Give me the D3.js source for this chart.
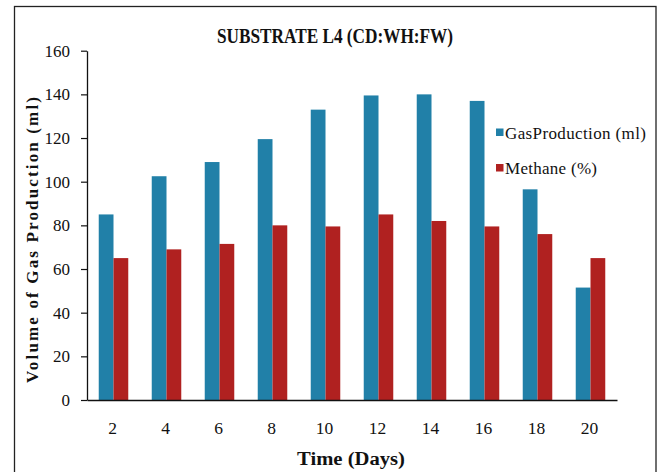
<!DOCTYPE html>
<html>
<head>
<meta charset="utf-8">
<script src="https://cdn.jsdelivr.net/npm/d3@7"></script>
<style>
  html, body { margin: 0; padding: 0; background: #fff; }
  svg { display: block; }
  text { font-family: "Liberation Serif", "Times New Roman", "DejaVu Serif", serif; fill: #111; }
</style>
</head>
<body>
<svg id="chart" width="662" height="472"></svg>
<script>
// Sampling days (x categories)
const days = ["2", "4", "6", "8", "10", "12", "14", "16", "18", "20"];
// Gas production volume (ml) per day
const gasProduction = [85, 102.5, 109, 119.5, 133, 139.5, 140, 137, 96.5, 51.5];
// Methane content (%) per day
const methane = [65, 69, 71.5, 80, 79.5, 85, 82, 79.5, 76, 65];
// Y-axis tick values
const yTicks = [0, 20, 40, 60, 80, 100, 120, 140, 160];
const seriesNames = ["GasProduction (ml)", "Methane (%)"];
const seriesColors = ["#2180A8", "#B02120"];

const serif = "'Liberation Serif', 'Times New Roman', serif";
const svg = d3.select("#chart");
const plot = { left: 87, right: 617, top: 50.7, bottom: 400 };

// outer frame
svg.append("rect")
  .attr("x", 14.5).attr("y", 6.5)
  .attr("width", 641.5).attr("height", 480)
  .attr("fill", "#fff").attr("stroke", "#222").attr("stroke-width", 1.3);

const x0 = d3.scaleBand().domain(days)
  .range([plot.left, plot.right]).paddingInner(0.443).paddingOuter(0.2215);
const x1 = d3.scaleBand().domain([0, 1]).range([0, x0.bandwidth()]).padding(0);
const y = d3.scaleLinear().domain([0, 160]).range([plot.bottom, plot.top]);

const rows = days.map((d, i) => ({ day: d, vals: [gasProduction[i], methane[i]] }));

// bars
const groups = svg.append("g").selectAll("g").data(rows).join("g")
  .attr("transform", d => `translate(${x0(d.day)},0)`);
groups.selectAll("rect").data(d => d.vals.map((v, k) => ({ v, k })))
  .join("rect")
  .attr("x", d => x1(d.k))
  .attr("width", x1.bandwidth())
  .attr("y", d => y(d.v))
  .attr("height", d => y(0) - y(d.v))
  .attr("fill", d => seriesColors[d.k]);

// y axis
const yAxis = svg.append("g")
  .attr("transform", `translate(${plot.left},0)`)
  .attr("font-family", serif)
  .call(d3.axisLeft(y).tickValues(yTicks).tickSize(6).tickPadding(11).tickSizeOuter(0));
yAxis.attr("font-family", serif).attr("font-size", 17);
yAxis.select(".domain").attr("stroke", "#111").attr("stroke-width", 1.3);
yAxis.selectAll(".tick line").attr("stroke", "#111").attr("stroke-width", 1.2);
yAxis.selectAll(".tick text").attr("fill", "#222");

// x axis
const xAxis = svg.append("g")
  .attr("transform", `translate(0,${plot.bottom})`)
  .call(d3.axisBottom(x0).tickSize(0).tickPadding(22).tickSizeOuter(0));
xAxis.attr("font-family", serif).attr("font-size", 17.5);
xAxis.select(".domain").attr("stroke", "#111").attr("stroke-width", 1.5);
xAxis.selectAll(".tick text").attr("fill", "#222").attr("dx", "-1");

// title
svg.append("text")
  .attr("x", 335).attr("y", 43)
  .attr("text-anchor", "middle")
  .attr("textLength", 236).attr("lengthAdjust", "spacingAndGlyphs")
  .style("font-size", "21px").style("font-weight", "bold")
  .text("SUBSTRATE  L4 (CD:WH:FW)");

// axis titles
svg.append("text")
  .attr("x", 351).attr("y", 465)
  .attr("text-anchor", "middle")
  .attr("textLength", 108).attr("lengthAdjust", "spacingAndGlyphs")
  .style("font-size", "18px").style("font-weight", "bold")
  .text("Time (Days)");

svg.append("text")
  .attr("transform", "translate(38,240) rotate(-90)")
  .attr("text-anchor", "middle")
  .attr("textLength", 286).attr("lengthAdjust", "spacing")
  .style("font-size", "17px").style("font-weight", "bold")
  .text("Volume of Gas Production (ml)");

// legend
const legend = svg.append("g");
const legendY = [132.5, 168];
seriesNames.forEach((name, k) => {
  legend.append("rect")
    .attr("x", 496).attr("y", legendY[k] - 4)
    .attr("width", 7.5).attr("height", 7.5)
    .attr("fill", seriesColors[k]);
  legend.append("text")
    .attr("x", 505).attr("y", legendY[k] + 6)
    .attr("textLength", k === 0 ? 141 : 92).attr("lengthAdjust", "spacing")
    .style("font-size", "17px")
    .text(name);
});
</script>
</body>
</html>
